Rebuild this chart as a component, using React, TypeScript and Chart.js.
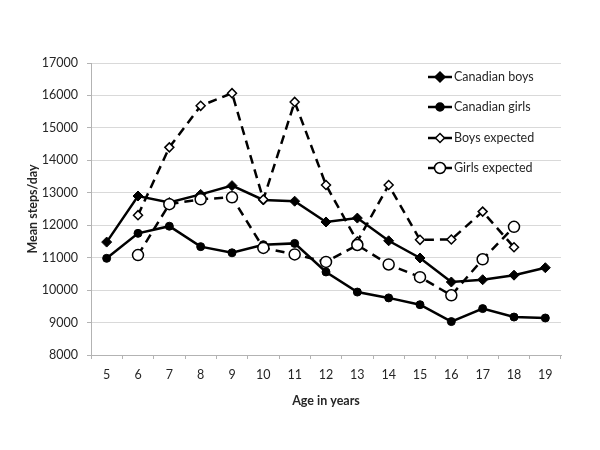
import React, { useEffect, useRef } from "react";
import { Chart, registerables } from "chart.js";

Chart.register(...registerables);

const ages = ["5", "6", "7", "8", "9", "10", "11", "12", "13", "14", "15", "16", "17", "18", "19"];
const canadianBoys = [11480, 12900, 12700, 12950, 13220, 12780, 12740, 12100, 12220, 11520, 10990, 10250, 10320, 10460, 10690];
const canadianGirls = [10980, 11750, 11970, 11340, 11150, 11400, 11440, 10560, 9940, 9760, 9550, 9030, 9430, 9170, 9140];
const boysExpected = [null, 12310, 14400, 15680, 16070, 12790, 15800, 13240, 11500, 13240, 11550, 11560, 12420, 11320, null];
const girlsExpected = [null, 11080, 12650, 12800, 12860, 11300, 11100, 10870, 11390, 10790, 10400, 9840, 10950, 11950, null];
const seriesNames = ["Canadian boys", "Canadian girls", "Boys expected", "Girls expected"];

const FONT = "Lato, 'Open Sans', sans-serif";
const TEXT = "#262626";

const legendPlugin = {
  id: "customLegend",
  afterDraw(chart: any) {
    const ctx = chart.ctx;
    const ys = [77, 107, 138, 168];
    const styles = [
      { shape: "diamond", fill: "#000", r: 5 },
      { shape: "circle", fill: "#000", r: 4 },
      { shape: "diamond", fill: "#fff", r: 4.5 },
      { shape: "circle", fill: "#fff", r: 5.5 },
    ];
    ctx.save();
    seriesNames.forEach((name, i) => {
      const y = ys[i];
      const st = styles[i];
      ctx.strokeStyle = "#000";
      ctx.lineWidth = 2.5;
      ctx.setLineDash([]);
      ctx.beginPath();
      ctx.moveTo(428, y);
      ctx.lineTo(452, y);
      ctx.stroke();
      ctx.fillStyle = st.fill;
      ctx.lineWidth = 1.5;
      ctx.beginPath();
      if (st.shape === "diamond") {
        ctx.moveTo(440, y - st.r);
        ctx.lineTo(440 + st.r, y);
        ctx.lineTo(440, y + st.r);
        ctx.lineTo(440 - st.r, y);
        ctx.closePath();
      } else {
        ctx.arc(440, y, st.r, 0, Math.PI * 2);
      }
      ctx.fill();
      ctx.stroke();
      ctx.fillStyle = TEXT;
      ctx.font = `12.5px ${FONT}`;
      ctx.textBaseline = "middle";
      ctx.textAlign = "left";
      ctx.fillText(name, 454, y);
    });
    ctx.restore();
  },
};

export default function App() {
  const ref = useRef<HTMLCanvasElement | null>(null);
  useEffect(() => {
    if (!ref.current) return;
    const chart = new Chart(ref.current, {
      type: "line",
      data: {
        labels: ages,
        datasets: [
          {
            label: seriesNames[0],
            data: canadianBoys,
            borderColor: "#000",
            backgroundColor: "#000",
            borderWidth: 2.5,
            pointStyle: "rectRot",
            pointRadius: 5,
            pointBorderWidth: 1,
            order: 4,
          },
          {
            label: seriesNames[1],
            data: canadianGirls,
            borderColor: "#000",
            backgroundColor: "#000",
            borderWidth: 2.5,
            pointStyle: "circle",
            pointRadius: 4,
            pointBorderWidth: 1,
            order: 3,
          },
          {
            label: seriesNames[2],
            data: boysExpected,
            borderColor: "#000",
            backgroundColor: "#fff",
            borderWidth: 2.5,
            borderDash: [9, 6],
            pointStyle: "rectRot",
            pointRadius: 4.5,
            pointBorderWidth: 1.5,
            order: 2,
          },
          {
            label: seriesNames[3],
            data: girlsExpected,
            borderColor: "#000",
            backgroundColor: "#fff",
            borderWidth: 2.5,
            borderDash: [9, 6],
            pointStyle: "circle",
            pointRadius: 5.5,
            pointBorderWidth: 1.5,
            order: 1,
          },
        ],
      },
      options: {
        animation: false,
        responsive: true,
        maintainAspectRatio: false,
        layout: { padding: { left: 21, top: 63, right: 39, bottom: 38 } },
        plugins: {
          legend: { display: false },
          tooltip: { enabled: false },
        },
        scales: {
          x: {
            type: "category",
            offset: true,
            afterFit: (s: any) => {
              s.height = 57;
            },
            grid: {
              display: true,
              drawOnChartArea: false,
              offset: true,
              tickLength: 4,
              color: "#b3b3b3",
            },
            border: { display: true, color: "#b3b3b3", width: 1 },
            ticks: {
              color: TEXT,
              font: { family: FONT, size: 12.5 },
              padding: 8,
              maxRotation: 0,
              autoSkip: false,
            },
            title: {
              display: true,
              text: "Age in years",
              color: TEXT,
              font: { family: FONT, size: 12.5, weight: "bold" },
            },
          },
          y: {
            min: 8000,
            max: 17000,
            afterFit: (s: any) => {
              s.width = 70;
            },
            ticks: {
              stepSize: 1000,
              color: TEXT,
              font: { family: FONT, size: 12.5 },
              padding: 9,
              callback: (v: any) => String(v),
            },
            grid: {
              color: "#d9d9d9",
              tickLength: 4,
              tickColor: "#b3b3b3",
            },
            border: { display: true, color: "#b3b3b3", width: 1 },
            title: {
              display: true,
              text: "Mean steps/day",
              color: TEXT,
              font: { family: FONT, size: 12.5, weight: "bold" },
            },
          },
        },
      },
      plugins: [legendPlugin],
    } as any);
    return () => chart.destroy();
  }, []);
  return (
    <div style={{ position: "absolute", left: 0, top: 0, width: 600, height: 450, background: "#fff" }}>
      <canvas ref={ref} />
    </div>
  );
}
